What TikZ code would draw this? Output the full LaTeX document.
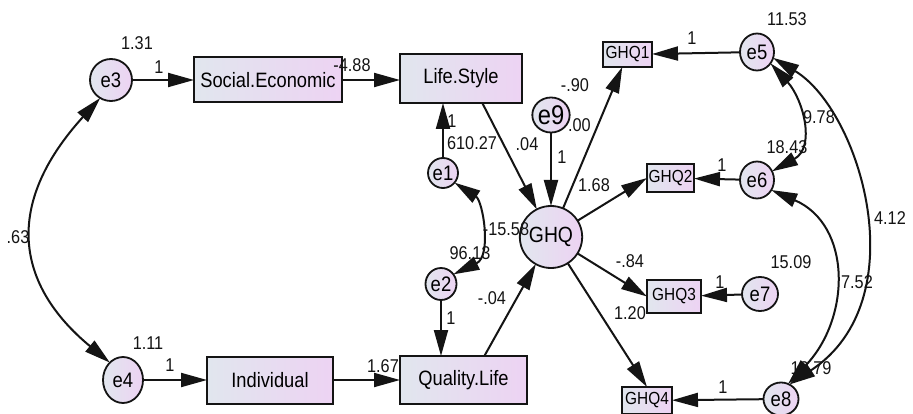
\documentclass[tikz,border=0pt]{standalone}
\usepackage{fontspec}
\setmainfont{Liberation Sans}[FakeStretch=0.88]
\usetikzlibrary{arrows.meta,shapes.geometric}
\definecolor{gl}{RGB}{225,230,238}
\definecolor{gr}{RGB}{237,211,243}
\definecolor{ln}{RGB}{20,20,20}
\newcommand\myfs[1]{\fontsize{#1}{#1}\selectfont}
\begin{document}
\begin{tikzpicture}[x=1pt,y=-1pt,
  every node/.style={inner sep=0pt,outer sep=0pt},
  obsbox/.style={rectangle,draw=ln,line width=2pt,left color=gl,right color=gr,font=\myfs{20.8}},
  smallbox/.style={rectangle,draw=ln,line width=2pt,left color=gl,right color=gr,font=\myfs{17.5}},
  errnode/.style={ellipse,draw=ln,line width=1.8pt,left color=gl,right color=gr,font=\myfs{21}},
  lbl/.style={font=\myfs{18.5},text=ln},
  arr/.style={line width=2pt,draw=ln,-{Triangle[length=26pt,width=14pt]}},
  dbl/.style={line width=2pt,draw=ln,{Triangle[length=26pt,width=14pt]}-{Triangle[length=26pt,width=14pt]}}
]
\useasboundingbox (0,0) rectangle (913,414);
\fill[white] (0,0) rectangle (913,414);

% observed boxes
\node[obsbox,minimum width=148,minimum height=45] (SE) at (268,80) {Social.Economic};
\node[obsbox,minimum width=122,minimum height=49] (LS) at (461,78.5) {Life.Style};
\node[obsbox,minimum width=126,minimum height=47] (IND) at (270,380) {Individual};
\node[obsbox,minimum width=127,minimum height=48] (QL) at (463.5,380) {Quality.Life};
\node[smallbox,minimum width=49,minimum height=25] (G1) at (627.5,54.5) {GHQ1};
\node[smallbox,minimum width=47,minimum height=28] (G2) at (670.5,178) {GHQ2};
\node[smallbox,minimum width=54,minimum height=33] (G3) at (674,296.5) {GHQ3};
\node[smallbox,minimum width=50,minimum height=27] (G4) at (647,400.5) {GHQ4};

% latent / errors
\node[errnode,minimum width=42,minimum height=42] (e3) at (111,80) {e3};
\node[errnode,minimum width=40,minimum height=46] (e4) at (123,380) {e4};
\node[errnode,minimum width=30,minimum height=30] (e1) at (443,173) {e1};
\node[errnode,minimum width=31,minimum height=32] (e2) at (441,284) {e2};
\node[errnode,minimum width=37,minimum height=35,font=\myfs{27}] (e9) at (551,115) {e9};
\node[errnode,minimum width=62,minimum height=62,font=\myfs{22}] (GHQ) at (551,237) {GHQ};
\node[errnode,minimum width=34,minimum height=37] (e5) at (757,52) {e5};
\node[errnode,minimum width=34,minimum height=37] (e6) at (757,180) {e6};
\node[errnode,minimum width=36,minimum height=34] (e7) at (760,294) {e7};
\node[errnode,minimum width=35,minimum height=33] (e8) at (781,399) {e8};

% paths
\draw[arr] (e3) -- (SE);
\draw[arr] (SE.east) -- (SE.east -| LS.west);
\draw[arr] (e4) -- (IND);
\draw[arr] (IND) -- (QL);
\draw[arr] (e1) -- (LS.south -| e1);
\draw[arr] (e2) -- (QL.north -| e2);
\draw[arr] (LS.-49) -- (GHQ);
\draw[arr] (QL.49) -- (GHQ);
\draw[arr] (e9) -- (GHQ);
\draw[arr] (GHQ) -- (G1);
\draw[arr] (GHQ) -- (G2.west);
\draw[arr] (GHQ) -- (G3.west);
\draw[arr] (GHQ) -- (G4.north);
\draw[arr] (e5) -- (G1);
\draw[arr] (e6) -- (G2);
\draw[arr] (e7) -- (G3);
\draw[arr] (e8) -- (G4);

% covariances
\draw[dbl] (e3.-121) .. controls (3,205) and (16,285) .. (e4.127);
\draw[dbl] (e1.-40) .. controls (483,201) and (492,256) .. (e2.38);
\draw[dbl] (e5.-40) .. controls (803,99) and (816,147) .. (e6.30);
\draw[dbl] (e5.-20) .. controls (860,110) and (918,300) .. (e8.60);
\draw[dbl] (e6.-35) .. controls (852,225) and (851,318) .. (e8.65);

% labels
\node[lbl] at (137,43) {1.31};
\node[lbl] at (159,67) {1};
\node[lbl] at (352,65) {-4.88};
\node[lbl] at (18,237) {.63};
\node[lbl] at (148,343) {1.11};
\node[lbl] at (170,365) {1};
\node[lbl] at (383,366) {1.67};
\node[lbl] at (452,121) {1};
\node[lbl] at (472,143) {610.27};
\node[lbl] at (527,144) {.04};
\node[lbl] at (506,229) {-15.58};
\node[lbl] at (470,253) {96.13};
\node[lbl] at (451,318) {1};
\node[lbl] at (492,298) {-.04};
\node[lbl] at (562,157) {1};
\node[lbl,anchor=west] at (568,125) {.00};
\node[lbl] at (575,85) {-.90};
\node[lbl] at (594,185) {1.68};
\node[lbl] at (630,261) {-.84};
\node[lbl] at (630,313) {1.20};
\node[lbl] at (692,38) {1};
\node[lbl] at (787,19) {11.53};
\node[lbl] at (819,117) {9.78};
\node[lbl] at (787,147) {18.43};
\node[lbl] at (722,165) {1};
\node[lbl] at (791,262) {15.09};
\node[lbl] at (720,282) {1};
\node[lbl] at (890,218) {4.12};
\node[lbl] at (857,282) {7.52};
\node[lbl] at (811,368) {12.79};
\node[lbl] at (723,387) {1};
\end{tikzpicture}
\end{document}
